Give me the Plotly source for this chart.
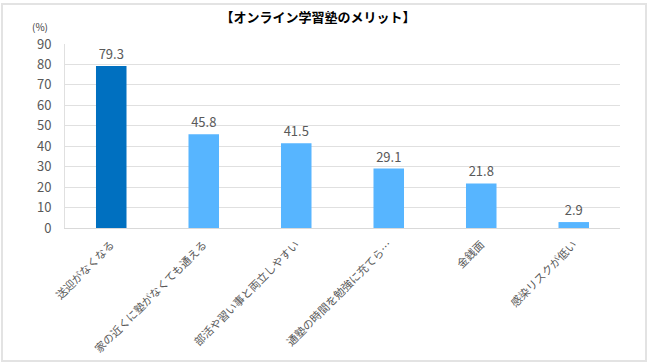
import plotly.graph_objects as go

categories = ["送迎がなくなる", "家の近くに塾がなくても通える", "部活や習い事と両立しやすい",
              "通塾の時間を勉強に充てら…", "金銭面", "感染リスクが低い"]
values = [79.3, 45.8, 41.5, 29.1, 21.8, 2.9]
colors = ["#0070c0", "#57b5ff", "#57b5ff", "#57b5ff", "#57b5ff", "#57b5ff"]
y_ticks = [0, 10, 20, 30, 40, 50, 60, 70, 80, 90]

FONT = "Noto Sans CJK JP"

fig = go.Figure()
fig.add_trace(go.Bar(
    x=categories, y=values,
    marker=dict(color=colors, line=dict(width=0)),
    text=[f"{v:.1f}" for v in values],
    textposition="outside",
    textfont=dict(size=13, color="#595959", family=FONT),
    cliponaxis=False,
    width=0.33,
))

L, R, T, B = 65, 30, 44, 136
W, H = 650, 364
pw, ph = W - L - R, H - T - B

def px_x(x):
    return (x - L) / pw

def px_y(y):
    return (H - B - y) / ph

fig.update_layout(
    width=W, height=H,
    margin=dict(l=L, r=R, t=T, b=B, autoexpand=False),
    paper_bgcolor="white", plot_bgcolor="white",
    showlegend=False,
    font=dict(family=FONT, color="#595959"),
    title=dict(text="<b>【オンライン学習塾のメリット】</b>", x=318 / W,
               xanchor="center", y=1 - 17 / H, yanchor="middle",
               font=dict(size=13, color="#000000", family=FONT)),
    xaxis=dict(
        tickangle=-45, tickfont=dict(size=11, color="#595959", family=FONT),
        showline=True, linecolor="#d9d9d9", linewidth=1,
        showgrid=False, ticks="outside", ticklen=5, tickcolor="white",
        automargin=False,
    ),
    yaxis=dict(
        range=[0, 90], tickvals=y_ticks,
        tickfont=dict(size=13, color="#595959", family=FONT),
        showgrid=True, gridcolor="#e0e0e0", gridwidth=1,
        showline=True, linecolor="#e0e0e0", linewidth=1,
        zeroline=False, ticks="outside", ticklen=10, tickcolor="white",
        automargin=False,
    ),
    annotations=[dict(text="(%)", x=px_x(40), y=px_y(27), xref="paper", yref="paper",
                      showarrow=False, font=dict(size=10, color="#404040", family=FONT),
                      xanchor="center", yanchor="middle")],
    shapes=[dict(type="rect", xref="paper", yref="paper",
                 x0=px_x(2), x1=px_x(646), y0=px_y(361), y1=px_y(4),
                 line=dict(color="#e3e3e3", width=2), layer="below")],
)

fig.write_html("out.html", config={"displayModeBar": False},
               post_script="document.body.style.margin='0';document.body.style.overflow='hidden';")
